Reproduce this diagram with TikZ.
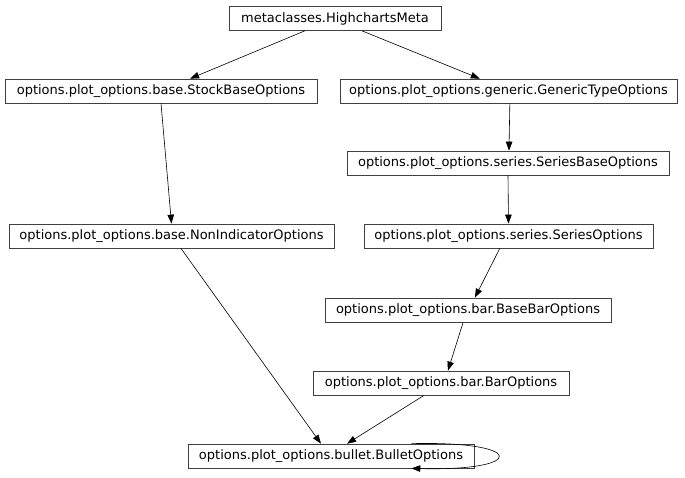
\documentclass[tikz,border=0pt]{standalone}
\usepackage{fontspec}
\setmainfont{DejaVu Sans}
\usetikzlibrary{arrows.meta,calc}
\begin{document}
\begin{tikzpicture}[x=1pt,y=-1pt,
  cls/.style={draw=black!75, line width=0.7pt, minimum height=24pt, inner sep=0pt,
    font=\fontsize{13}{15}\selectfont, text height=9.6pt, text depth=2.4pt},
  edge/.style={draw=black, line width=0.6pt, -{Triangle[length=9pt,width=6.5pt]}}]
\useasboundingbox (0,0) rectangle (685,477);
\node[cls, minimum width=212pt] (top) at (335,18.5) {metaclasses.HighchartsMeta};
\node[cls, minimum width=312pt] (stock) at (161,91) {options.plot\_options.base.StockBaseOptions};
\node[cls, minimum width=337pt] (generic) at (508.5,91) {options.plot\_options.generic.GenericTypeOptions};
\node[cls, minimum width=322pt] (sbase) at (508,163) {options.plot\_options.series.SeriesBaseOptions};
\node[cls, minimum width=325pt] (nonind) at (171.5,236) {options.plot\_options.base.NonIndicatorOptions};
\node[cls, minimum width=289pt] (series) at (508.5,236) {options.plot\_options.series.SeriesOptions};
\node[cls, minimum width=286pt] (basebar) at (468,310) {options.plot\_options.bar.BaseBarOptions};
\node[cls, minimum width=256pt] (bar) at (441,383) {options.plot\_options.bar.BarOptions};
\node[cls, minimum width=286pt] (bullet) at (331,456) {options.plot\_options.bullet.BulletOptions};

\draw[edge] ($(top.south west)!0.358!(top.south east)$) -- ($(stock.north west)!0.593!(stock.north east)$);
\draw[edge] ($(top.south west)!0.627!(top.south east)$) -- ($(generic.north west)!0.415!(generic.north east)$);
\draw[edge] (stock.south) -- (nonind.north);
\draw[edge] ($(generic.south west)!0.504!(generic.south east)$) -- ($(sbase.north west)!0.503!(sbase.north east)$);
\draw[edge] (sbase.south) -- (series.north);
\draw[edge] ($(series.south west)!0.47!(series.south east)$) -- ($(basebar.north west)!0.524!(basebar.north east)$);
\draw[edge] ($(basebar.south west)!0.483!(basebar.south east)$) -- ($(bar.north west)!0.527!(bar.north east)$);
\draw[edge] ($(nonind.south west)!0.529!(nonind.south east)$) -- ($(bullet.north west)!0.465!(bullet.north east)$);
\draw[edge] ($(bar.south west)!0.434!(bar.south east)$) -- ($(bullet.north west)!0.556!(bullet.north east)$);
\draw[edge] ($(bullet.north west)!0.78!(bullet.north east)$) .. controls +(116,-3) and +(116,3) .. ($(bullet.south west)!0.78!(bullet.south east)$);
\end{tikzpicture}
\end{document}
